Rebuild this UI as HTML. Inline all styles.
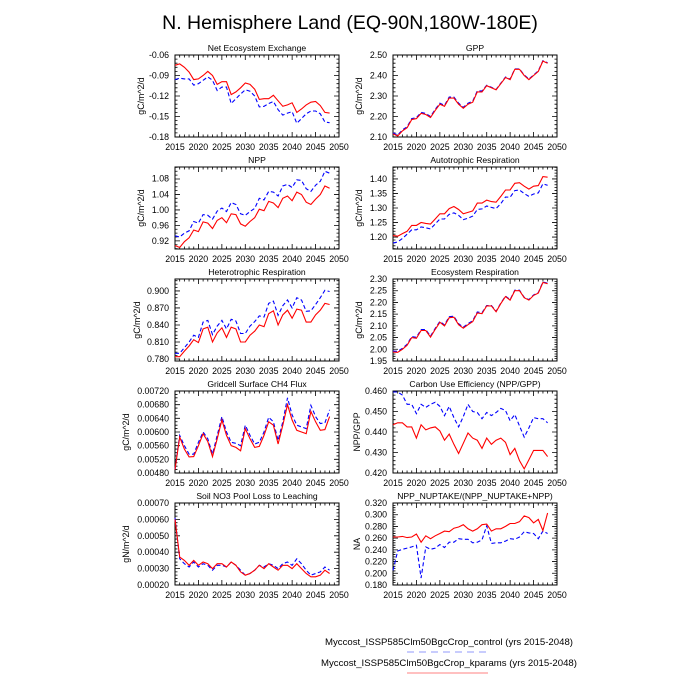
<!DOCTYPE html>
<html><head><meta charset="utf-8"><style>
html,body{margin:0;padding:0;background:#fff;}
svg{display:block;font-family:"Liberation Sans",sans-serif;}
.t{font-size:8.6px;text-anchor:middle;}
.yl{font-size:8.8px;text-anchor:end;}
.xl{font-size:8.8px;text-anchor:middle;}
.ya{font-size:8.8px;text-anchor:middle;}
</style></head><body>
<svg id="s" width="700" height="700" viewBox="0 0 700 700">
<text x="350" y="29" font-size="19.5" text-anchor="middle">N. Hemisphere Land (EQ-90N,180W-180E)</text>
<g id="plots"></g>
<text class="t" x="257" y="51">Net Ecosystem Exchange</text>
<text class="t" x="475" y="51">GPP</text>
<text class="t" x="257" y="163">NPP</text>
<text class="t" x="475" y="163">Autotrophic Respiration</text>
<text class="t" x="257" y="275">Heterotrophic Respiration</text>
<text class="t" x="475" y="275">Ecosystem Respiration</text>
<text class="t" x="257" y="387">Gridcell Surface CH4 Flux</text>
<text class="t" x="475" y="387">Carbon Use Efficiency (NPP/GPP)</text>
<text class="t" x="257" y="499">Soil NO3 Pool Loss to Leaching</text>
<text class="t" x="475" y="499">NPP_NUPTAKE/(NPP_NUPTAKE+NPP)</text>
<text class="ya" transform="translate(144,96) rotate(-90)">gC/m^2/d</text>
<text class="ya" transform="translate(362,96) rotate(-90)">gC/m^2/d</text>
<text class="ya" transform="translate(144,208) rotate(-90)">gC/m^2/d</text>
<text class="ya" transform="translate(362,208) rotate(-90)">gC/m^2/d</text>
<text class="ya" transform="translate(140,320) rotate(-90)">gC/m^2/d</text>
<text class="ya" transform="translate(362,320) rotate(-90)">gC/m^2/d</text>
<text class="ya" transform="translate(129,432) rotate(-90)">gC/m^2/d</text>
<text class="ya" transform="translate(360,432) rotate(-90)">NPP/GPP</text>
<text class="ya" transform="translate(129,544) rotate(-90)">gN/m^2/d</text>
<text class="ya" transform="translate(360,544) rotate(-90)">NA</text>
<g class="yl">
<text x="169" y="58">-0.06</text><text x="169" y="78.5">-0.09</text><text x="169" y="99">-0.12</text><text x="169" y="119.5">-0.15</text><text x="169" y="140">-0.18</text>
<text x="387" y="58">2.50</text><text x="387" y="78.5">2.40</text><text x="387" y="99">2.30</text><text x="387" y="119.5">2.20</text><text x="387" y="140">2.10</text>
<text x="169" y="181.7">1.08</text><text x="169" y="197.3">1.04</text><text x="169" y="213">1.00</text><text x="169" y="228.6">0.96</text><text x="169" y="244.2">0.92</text>
<text x="387" y="181.9">1.40</text><text x="387" y="196.5">1.35</text><text x="387" y="211">1.30</text><text x="387" y="225.5">1.25</text><text x="387" y="240.1">1.20</text>
<text x="169" y="293.9">0.900</text><text x="169" y="310.9">0.870</text><text x="169" y="328">0.840</text><text x="169" y="345">0.810</text><text x="169" y="362">0.780</text>
<text x="387" y="282">2.30</text><text x="387" y="293.7">2.25</text><text x="387" y="305.4">2.20</text><text x="387" y="317.1">2.15</text><text x="387" y="328.9">2.10</text><text x="387" y="340.6">2.05</text><text x="387" y="352.3">2.00</text><text x="387" y="364">1.95</text>
<text x="169" y="394">0.00720</text><text x="169" y="407.7">0.00680</text><text x="169" y="421.3">0.00640</text><text x="169" y="435">0.00600</text><text x="169" y="448.7">0.00560</text><text x="169" y="462.3">0.00520</text><text x="169" y="476">0.00480</text>
<text x="387" y="394">0.460</text><text x="387" y="414.5">0.450</text><text x="387" y="435">0.440</text><text x="387" y="455.5">0.430</text><text x="387" y="476">0.420</text>
<text x="169" y="506">0.00070</text><text x="169" y="522.4">0.00060</text><text x="169" y="538.8">0.00050</text><text x="169" y="555.2">0.00040</text><text x="169" y="571.6">0.00030</text><text x="169" y="588">0.00020</text>
<text x="387" y="506">0.320</text><text x="387" y="517.7">0.300</text><text x="387" y="529.4">0.280</text><text x="387" y="541.1">0.260</text><text x="387" y="552.9">0.240</text><text x="387" y="564.6">0.220</text><text x="387" y="576.3">0.200</text><text x="387" y="588">0.180</text>
</g>
<g class="xl">
<g transform="translate(0,150)"><text x="175" y="0">2015</text><text x="198.4" y="0">2020</text><text x="221.9" y="0">2025</text><text x="245.3" y="0">2030</text><text x="268.7" y="0">2035</text><text x="292.1" y="0">2040</text><text x="315.6" y="0">2045</text><text x="339" y="0">2050</text></g>
<g transform="translate(218,150)"><text x="175" y="0">2015</text><text x="198.4" y="0">2020</text><text x="221.9" y="0">2025</text><text x="245.3" y="0">2030</text><text x="268.7" y="0">2035</text><text x="292.1" y="0">2040</text><text x="315.6" y="0">2045</text><text x="339" y="0">2050</text></g>
<g transform="translate(0,262)"><text x="175" y="0">2015</text><text x="198.4" y="0">2020</text><text x="221.9" y="0">2025</text><text x="245.3" y="0">2030</text><text x="268.7" y="0">2035</text><text x="292.1" y="0">2040</text><text x="315.6" y="0">2045</text><text x="339" y="0">2050</text></g>
<g transform="translate(218,262)"><text x="175" y="0">2015</text><text x="198.4" y="0">2020</text><text x="221.9" y="0">2025</text><text x="245.3" y="0">2030</text><text x="268.7" y="0">2035</text><text x="292.1" y="0">2040</text><text x="315.6" y="0">2045</text><text x="339" y="0">2050</text></g>
<g transform="translate(0,374)"><text x="175" y="0">2015</text><text x="198.4" y="0">2020</text><text x="221.9" y="0">2025</text><text x="245.3" y="0">2030</text><text x="268.7" y="0">2035</text><text x="292.1" y="0">2040</text><text x="315.6" y="0">2045</text><text x="339" y="0">2050</text></g>
<g transform="translate(218,374)"><text x="175" y="0">2015</text><text x="198.4" y="0">2020</text><text x="221.9" y="0">2025</text><text x="245.3" y="0">2030</text><text x="268.7" y="0">2035</text><text x="292.1" y="0">2040</text><text x="315.6" y="0">2045</text><text x="339" y="0">2050</text></g>
<g transform="translate(0,486)"><text x="175" y="0">2015</text><text x="198.4" y="0">2020</text><text x="221.9" y="0">2025</text><text x="245.3" y="0">2030</text><text x="268.7" y="0">2035</text><text x="292.1" y="0">2040</text><text x="315.6" y="0">2045</text><text x="339" y="0">2050</text></g>
<g transform="translate(218,486)"><text x="175" y="0">2015</text><text x="198.4" y="0">2020</text><text x="221.9" y="0">2025</text><text x="245.3" y="0">2030</text><text x="268.7" y="0">2035</text><text x="292.1" y="0">2040</text><text x="315.6" y="0">2045</text><text x="339" y="0">2050</text></g>
<g transform="translate(0,598)"><text x="175" y="0">2015</text><text x="198.4" y="0">2020</text><text x="221.9" y="0">2025</text><text x="245.3" y="0">2030</text><text x="268.7" y="0">2035</text><text x="292.1" y="0">2040</text><text x="315.6" y="0">2045</text><text x="339" y="0">2050</text></g>
<g transform="translate(218,598)"><text x="175" y="0">2015</text><text x="198.4" y="0">2020</text><text x="221.9" y="0">2025</text><text x="245.3" y="0">2030</text><text x="268.7" y="0">2035</text><text x="292.1" y="0">2040</text><text x="315.6" y="0">2045</text><text x="339" y="0">2050</text></g>
</g>
<text x="449" y="645" font-size="9.6" text-anchor="middle">Myccost_ISSP585Clm50BgcCrop_control (yrs 2015-2048)</text>
<line x1="407" y1="652" x2="488" y2="652" stroke="#a8aefc" stroke-width="1.3" stroke-dasharray="7,5"/>
<text x="449" y="666" font-size="9.6" text-anchor="middle">Myccost_ISSP585Clm50BgcCrop_kparams (yrs 2015-2048)</text>
<line x1="407" y1="673" x2="488" y2="673" stroke="#ff9a9a" stroke-width="1.3"/>
</svg>
<script>
var P=[
[175,55,-0.18,-0.06,
[-0.075,-0.073,-0.078,-0.085,-0.096,-0.095,-0.090,-0.084,-0.090,-0.103,-0.099,-0.099,-0.118,-0.114,-0.108,-0.101,-0.103,-0.110,-0.125,-0.124,-0.124,-0.119,-0.127,-0.135,-0.133,-0.130,-0.144,-0.139,-0.133,-0.129,-0.128,-0.134,-0.144,-0.145],
[-0.096,-0.094,-0.095,-0.095,-0.104,-0.102,-0.097,-0.092,-0.097,-0.112,-0.107,-0.107,-0.131,-0.124,-0.117,-0.111,-0.113,-0.120,-0.136,-0.135,-0.131,-0.128,-0.140,-0.148,-0.145,-0.143,-0.160,-0.153,-0.146,-0.142,-0.142,-0.146,-0.158,-0.159]],
[393,55,2.10,2.50,
[2.115,2.105,2.13,2.145,2.185,2.19,2.215,2.21,2.195,2.23,2.26,2.25,2.29,2.29,2.26,2.24,2.26,2.27,2.32,2.32,2.35,2.34,2.33,2.36,2.39,2.38,2.43,2.43,2.40,2.38,2.40,2.42,2.47,2.46],null],
[175,167,0.899,1.111,
[0.908,0.903,0.918,0.928,0.948,0.944,0.969,0.966,0.952,0.973,0.980,0.967,0.990,0.988,0.964,0.958,0.970,0.980,1.002,0.998,1.022,1.018,1.006,1.030,1.036,1.024,1.046,1.040,1.020,1.014,1.028,1.040,1.062,1.056],
[0.933,0.930,0.940,0.946,0.970,0.966,0.988,0.986,0.976,0.997,1.005,0.996,1.019,1.014,0.990,0.986,0.996,1.004,1.030,1.026,1.048,1.046,1.036,1.062,1.066,1.058,1.078,1.076,1.055,1.048,1.064,1.074,1.100,1.095]],
[393,167,1.159,1.441,
[1.205,1.203,1.212,1.22,1.24,1.24,1.25,1.247,1.245,1.262,1.28,1.28,1.298,1.305,1.295,1.28,1.285,1.29,1.317,1.317,1.327,1.322,1.32,1.34,1.362,1.362,1.385,1.387,1.375,1.365,1.375,1.377,1.408,1.406],
[1.18,1.183,1.195,1.21,1.225,1.225,1.235,1.232,1.228,1.245,1.262,1.262,1.278,1.283,1.275,1.26,1.265,1.272,1.295,1.297,1.307,1.302,1.298,1.315,1.338,1.337,1.36,1.362,1.35,1.34,1.348,1.352,1.383,1.378]],
[175,279,0.7765,0.921,
[0.784,0.784,0.794,0.803,0.814,0.809,0.833,0.836,0.810,0.826,0.835,0.818,0.836,0.833,0.810,0.810,0.822,0.829,0.840,0.837,0.860,0.865,0.840,0.858,0.866,0.852,0.868,0.866,0.845,0.845,0.858,0.866,0.878,0.876],
[0.790,0.790,0.800,0.810,0.822,0.818,0.845,0.848,0.823,0.838,0.848,0.833,0.850,0.847,0.825,0.825,0.838,0.846,0.856,0.854,0.878,0.882,0.857,0.874,0.884,0.870,0.888,0.884,0.864,0.865,0.876,0.888,0.901,0.899]],
[393,279,1.95,2.30,
[1.988,1.987,2.0,2.017,2.05,2.047,2.08,2.08,2.052,2.085,2.115,2.1,2.135,2.137,2.105,2.09,2.105,2.118,2.155,2.152,2.185,2.185,2.16,2.195,2.225,2.21,2.25,2.25,2.22,2.21,2.23,2.24,2.285,2.28],null],
[175,391,0.0048,0.0072,
[0.0049,0.00585,0.0055,0.00527,0.00528,0.0056,0.00595,0.00572,0.00528,0.0058,0.00635,0.0059,0.0056,0.00555,0.00545,0.0061,0.0058,0.00555,0.00558,0.0059,0.0063,0.0062,0.00565,0.0062,0.0068,0.00635,0.00605,0.006,0.00595,0.0066,0.0063,0.00605,0.00607,0.00645],
[0.0049,0.0059,0.0056,0.00535,0.00535,0.0057,0.006,0.0058,0.00535,0.0059,0.00645,0.006,0.0057,0.00567,0.0056,0.0062,0.0059,0.00565,0.0057,0.006,0.00643,0.0063,0.00575,0.0063,0.007,0.0065,0.0062,0.00615,0.0061,0.00678,0.00645,0.00625,0.00627,0.00665]],
[393,391,0.42,0.46,
[0.4435,0.4445,0.4445,0.4425,0.4425,0.437,0.4435,0.441,0.442,0.4425,0.4405,0.436,0.439,0.434,0.4295,0.4345,0.4395,0.437,0.436,0.432,0.437,0.434,0.436,0.437,0.435,0.429,0.432,0.426,0.422,0.4265,0.431,0.431,0.431,0.428],
[0.4595,0.4595,0.458,0.4535,0.4535,0.449,0.4535,0.452,0.4535,0.4545,0.4525,0.448,0.4525,0.447,0.4425,0.4475,0.4535,0.45,0.4495,0.4465,0.4495,0.448,0.4495,0.4515,0.4505,0.4455,0.4485,0.443,0.4375,0.442,0.447,0.4465,0.4465,0.4445]],
[175,503,0.0002,0.0007,
[0.00060,0.00037,0.00035,0.00032,0.00035,0.00032,0.00034,0.00033,0.00030,0.00033,0.00033,0.00031,0.00034,0.00032,0.00028,0.00026,0.00027,0.00029,0.00032,0.0003,0.00033,0.00031,0.00029,0.00032,0.00032,0.0003,0.00033,0.0003,0.00027,0.00025,0.00025,0.00026,0.00029,0.00027],
[0.00061,0.00036,0.00033,0.00031,0.00034,0.00031,0.00033,0.00032,0.00029,0.00032,0.00032,0.00031,0.00034,0.00032,0.00029,0.00026,0.00027,0.00029,0.00032,0.00031,0.00033,0.00032,0.00030,0.00033,0.00034,0.00032,0.00036,0.00033,0.00029,0.00026,0.00027,0.00028,0.00031,0.00029]],
[393,503,0.18,0.32,
[0.262,0.262,0.263,0.261,0.262,0.267,0.253,0.264,0.259,0.264,0.268,0.272,0.271,0.277,0.279,0.283,0.276,0.272,0.276,0.283,0.284,0.272,0.276,0.276,0.280,0.285,0.285,0.288,0.298,0.295,0.286,0.292,0.273,0.303],
[0.205,0.238,0.241,0.243,0.245,0.248,0.192,0.245,0.241,0.243,0.249,0.244,0.253,0.253,0.259,0.258,0.258,0.252,0.253,0.257,0.281,0.251,0.252,0.252,0.255,0.259,0.258,0.262,0.271,0.269,0.268,0.259,0.272,0.268]]
];
var yt={0:[0.03,0.006],1:[0.1,0.02],2:[0.04,0.01],3:[0.05,0.01],4:[0.03,0.006],5:[0.05,0.01],6:[0.0004,0.0001],7:[0.01,0.002],8:[0.0001,0.00002],9:[0.02,0.004]};
var yStart=[-0.18,2.10,0.92,1.20,0.780,1.95,0.0048,0.42,0.0002,0.18];
var W=164,H=82,h='';
P.forEach(function(p,i){
 var L=p[0],T=p[1],mn=p[2],mx=p[3];
 function Y(v){return T+(mx-v)/(mx-mn)*H;}
 function X(yr){return L+(yr-2015)*W/35;}
 var d='';
 for(var yr=2015;yr<=2050;yr++){var x=X(yr),len=(yr%5==0)?5:2.5;
  d+='M'+x+' '+(T+H)+'v'+(-len)+'M'+x+' '+T+'v'+len;}
 var mj=yt[i][0],mi=yt[i][1];
 for(var k=-20;k<200;k++){var v=yStart[i]+k*mi; if(v<mn-1e-9||v>mx+1e-9)continue;
  var y=Y(v),maj=Math.abs(Math.round((v-yStart[i])/mj)*mj-(v-yStart[i]))<mi/10,len=maj?5:2.5;
  d+='M'+L+' '+y+'h'+len+'M'+(L+W)+' '+y+'h'+(-len);}
 h+='<path d="'+d+'" stroke="#000" stroke-width="0.8" fill="none"/>';
 h+='<rect x="'+L+'" y="'+T+'" width="'+W+'" height="'+H+'" fill="none" stroke="#000" stroke-width="1"/>';
 function line(a,c,dash){var s='';a.forEach(function(v,j){s+=(j?'L':'M')+X(2015+j).toFixed(1)+' '+Y(v).toFixed(1);});
  return '<path d="'+s+'" fill="none" stroke="'+c+'" stroke-width="1.1"'+(dash?' stroke-dasharray="4,2.5"':'')+'/>';}
 var blue=p[5]; if(!blue){blue=p[4].map(function(v,j){return v+(mx-mn)*0.012*(j<20?1:0.5);});}
 h+=line(blue,'#0000ff',true);
 h+=line(p[4],'#ff0000',false);
});
document.getElementById('plots').innerHTML=h;
</script>
</body></html>
